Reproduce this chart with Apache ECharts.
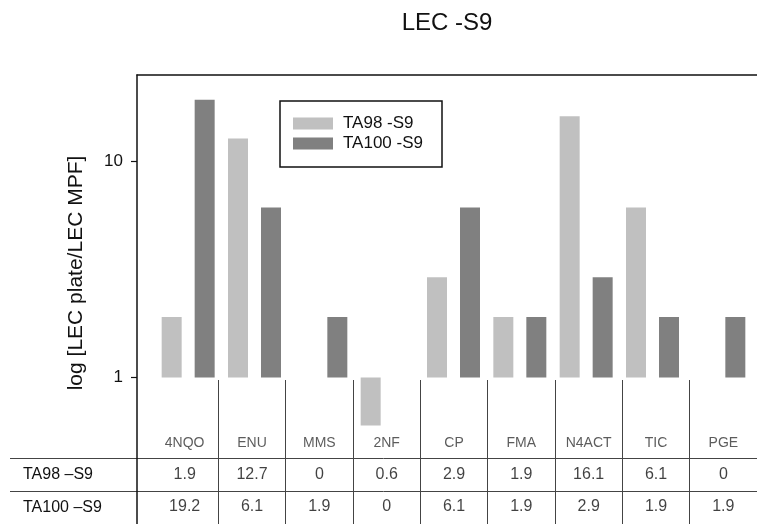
<!DOCTYPE html>
<html>
<head>
<meta charset="utf-8">
<script src="https://cdn.jsdelivr.net/npm/echarts@6/dist/echarts.min.js"></script>
<style>
html,body{margin:0;padding:0;background:#fff;}
#chart{width:757px;height:524px;}
</style>
</head>
<body>
<div id="chart"></div>
<script>
// ---- data ----
const categories = ['4NQO', 'ENU', 'MMS', '2NF', 'CP', 'FMA', 'N4ACT', 'TIC', 'PGE'];
const ta98 = [1.9, 12.7, 0, 0.6, 2.9, 1.9, 16.1, 6.1, 0];
const ta100 = [19.2, 6.1, 1.9, 0, 6.1, 1.9, 2.9, 1.9, 1.9];
const seriesNames = ['TA98 -S9', 'TA100 -S9'];
const rowLabels = ['TA98 \u2013S9', 'TA100 \u2013S9'];
const yTicks = [1, 10];
const yMin = 0.21;
const yMax = 25;
const titleText = 'LEC -S9';
const yName = 'log [LEC plate/LEC MPF]';

// ---- chart ----
const FONT = 'Liberation Sans, Arial, sans-serif';
const chart = echarts.init(document.getElementById('chart'), null, {renderer: 'canvas'});

// table rows: 0 = category names, 1 = TA98 values, 2 = TA100 values
const tableRows = ['names'].concat(rowLabels);
const nameCells = categories.map((c, i) => [i, 0, c]);
const valueCells = [];
categories.forEach((c, i) => {
  valueCells.push([i, 1, ta98[i]]);
  valueCells.push([i, 2, ta100[i]]);
});

const barVal = v => (v > 0 ? v : null);

const option = {
  animation: false,
  textStyle: {fontFamily: FONT},
  title: {
    text: titleText,
    left: 447, top: 11, padding: 0,
    textAlign: 'center',
    textStyle: {fontSize: 24, fontWeight: 'normal', color: '#111', fontFamily: FONT}
  },
  legend: {
    data: seriesNames,
    orient: 'vertical',
    left: 280, top: 101,
    padding: [14, 19, 15, 13],
    borderColor: '#111', borderWidth: 1.5,
    itemWidth: 40, itemHeight: 12, itemGap: 3,
    icon: 'rect',
    selectedMode: false,
    textStyle: {fontSize: 17, color: '#111', fontFamily: FONT, padding: [0, 0, 0, 5]}
  },
  grid: [
    // 0 frame
    {left: 137, right: 0, top: 75, bottom: 0, outerBoundsMode: 'none'},
    // 1 bars
    {left: 155, right: 5, top: 75, bottom: 0, outerBoundsMode: 'none'},
    // 2 table column separators
    {left: 151, right: 0, top: 380, bottom: 0, outerBoundsMode: 'none'},
    // 3 table row labels and lines
    {left: 10, right: 0, top: 458, bottom: 0, outerBoundsMode: 'none'},
    // 4 table cells (names + values)
    {left: 151, right: 0, top: 427, bottom: 1, outerBoundsMode: 'none'},
    // 5 y-axis name
    {left: 137, right: 0, top: 75, bottom: 53, outerBoundsMode: 'none'}
  ],
  xAxis: [
    {gridIndex: 0, type: 'value', position: 'top', min: 0, max: 1,
      axisLine: {show: true, onZero: false, lineStyle: {color: '#111', width: 1.5}},
      axisTick: {show: false}, axisLabel: {show: false}, splitLine: {show: false}},
    {gridIndex: 1, type: 'category', data: categories, show: false},
    {gridIndex: 2, type: 'category', data: categories,
      axisLine: {show: false}, axisTick: {show: false}, axisLabel: {show: false},
      splitLine: {show: true, interval: 0, showMinLine: false, showMaxLine: false,
        lineStyle: {color: '#444', width: 1}}},
    {gridIndex: 3, type: 'value', show: false},
    {gridIndex: 4, type: 'category', data: categories, show: false},
    {gridIndex: 5, type: 'value', show: false}
  ],
  yAxis: [
    {gridIndex: 0, type: 'value', min: Math.log10(yMin), max: Math.log10(yMax),
      axisLine: {show: true, onZero: false, lineStyle: {color: '#111', width: 1.5}},
      axisTick: {show: true, inside: false, length: 6, customValues: yTicks.map(Math.log10),
        lineStyle: {color: '#111', width: 1.2}},
      axisLabel: {show: true, customValues: yTicks.map(Math.log10), margin: 14,
        fontSize: 17, color: '#111', fontFamily: FONT,
        formatter: v => String(Math.round(Math.pow(10, v)))},
      splitLine: {show: false}},
    {gridIndex: 1, type: 'log', min: yMin, max: yMax, show: false},
    {gridIndex: 2, type: 'value', show: false},
    {gridIndex: 3, type: 'category', data: rowLabels, inverse: true,
      axisLine: {show: false}, axisTick: {show: false},
      axisLabel: {show: true, inside: true, margin: 13, align: 'left',
        fontSize: 16, color: '#111', fontFamily: FONT},
      splitLine: {show: true, interval: 0, showMinLine: true, showMaxLine: false,
        lineStyle: {color: '#444', width: 1}}},
    {gridIndex: 4, type: 'category', data: tableRows, inverse: true, show: false},
    {gridIndex: 5, type: 'value', show: true,
      axisLine: {show: false}, axisTick: {show: false}, axisLabel: {show: false},
      splitLine: {show: false},
      name: yName, nameLocation: 'middle', nameGap: 50,
      nameTextStyle: {fontSize: 21, color: '#111', fontFamily: FONT}}
  ],
  series: [
    {name: seriesNames[0], type: 'bar', xAxisIndex: 1, yAxisIndex: 1,
      data: ta98.map(barVal), barWidth: 20, barGap: '65%',
      itemStyle: {color: '#c0c0c0'}, silent: true},
    {name: seriesNames[1], type: 'bar', xAxisIndex: 1, yAxisIndex: 1,
      data: ta100.map(barVal), barWidth: 20, barGap: '65%',
      itemStyle: {color: '#808080'}, silent: true},
    {type: 'scatter', xAxisIndex: 4, yAxisIndex: 4, data: nameCells,
      symbolSize: 1, itemStyle: {color: 'rgba(0,0,0,0)'}, silent: true,
      label: {show: true, position: 'inside', fontSize: 14, color: '#333', fontFamily: FONT,
        formatter: p => String(p.value[2])}},
    {type: 'scatter', xAxisIndex: 4, yAxisIndex: 4, data: valueCells,
      symbolSize: 1, itemStyle: {color: 'rgba(0,0,0,0)'}, silent: true,
      label: {show: true, position: 'inside', fontSize: 16, color: '#111', fontFamily: FONT,
        formatter: p => String(p.value[2])}}
  ]
};
chart.setOption(option);
</script>
</body>
</html>
